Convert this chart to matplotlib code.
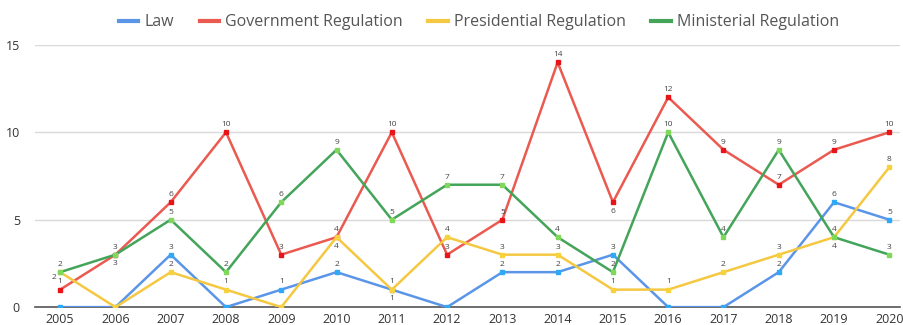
import matplotlib.pyplot as plt

plt.rcParams['font.family'] = ['Open Sans', 'DejaVu Sans']

years = list(range(2005, 2021))
law = [0, 0, 3, 0, 1, 2, 1, 0, 2, 2, 3, 0, 0, 2, 6, 5]
gov_reg = [1, 3, 6, 10, 3, 4, 10, 3, 5, 14, 6, 12, 9, 7, 9, 10]
pres_reg = [2, 0, 2, 1, 0, 4, 1, 4, 3, 3, 1, 1, 2, 3, 4, 8]
min_reg = [2, 3, 5, 2, 6, 9, 5, 7, 7, 4, 2, 10, 4, 9, 4, 3]

series = [
    ('Law', law, '#5b95e8', '#2fa8f5'),
    ('Government Regulation', gov_reg, '#ea5a50', '#e8141a'),
    ('Presidential Regulation', pres_reg, '#f5c842', '#f7d23c'),
    ('Ministerial Regulation', min_reg, '#43a45a', '#7fd85a'),
]

# labels that sit under the point instead of above it
below = {('Ministerial Regulation', 2006), ('Law', 2011),
         ('Presidential Regulation', 2010), ('Government Regulation', 2015),
         ('Presidential Regulation', 2019)}

fig = plt.figure(figsize=(9.04, 3.25), dpi=100)
ax = fig.add_axes([0.039, 0.055, 0.957, 0.807])

for name, vals, lc, mc in series:
    ax.plot(years, vals, color=lc, lw=1.8, marker='s', ms=3.5,
            mfc=mc, mec=mc, label=name, zorder=3)
    for x, v in zip(years, vals):
        if v == 0:
            continue
        if (name, x) in below:
            ax.annotate(str(v), (x, v), xytext=(0, -4), textcoords='offset points',
                        ha='center', va='top', fontsize=6, color='#444444')
        elif name == 'Presidential Regulation' and x == 2005:
            ax.annotate(str(v), (x, v), xytext=(-3, -1), textcoords='offset points',
                        ha='right', va='top', fontsize=6, color='#444444')
        else:
            ax.annotate(str(v), (x, v), xytext=(0, 3), textcoords='offset points',
                        ha='center', va='bottom', fontsize=6, color='#444444')

ax.set_xlim(2004.55, 2020.2)
ax.set_ylim(0, 15)
ax.set_yticks([0, 5, 10, 15])
ax.set_xticks(years)
ax.tick_params(length=0, labelsize=9, colors='#333333')
ax.tick_params(axis='y', pad=11)
ax.tick_params(axis='x', pad=4)
ax.grid(axis='y', color='#d9d9d9', lw=1)
ax.set_axisbelow(True)
for s in ['top', 'right', 'left']:
    ax.spines[s].set_visible(False)
ax.spines['bottom'].set_color('#555555')
ax.spines['bottom'].set_linewidth(1.2)

fig.legend(loc='upper center', bbox_to_anchor=(0.53, 1.0), ncol=4, frameon=False,
           fontsize=11.5, handlelength=1.2, handletextpad=0.4, columnspacing=1.6,
           labelcolor='#555555')
for h in fig.legends[0].legend_handles:
    h.set_marker('')
    h.set_linewidth(3)

fig.savefig('out.png', dpi=100)
